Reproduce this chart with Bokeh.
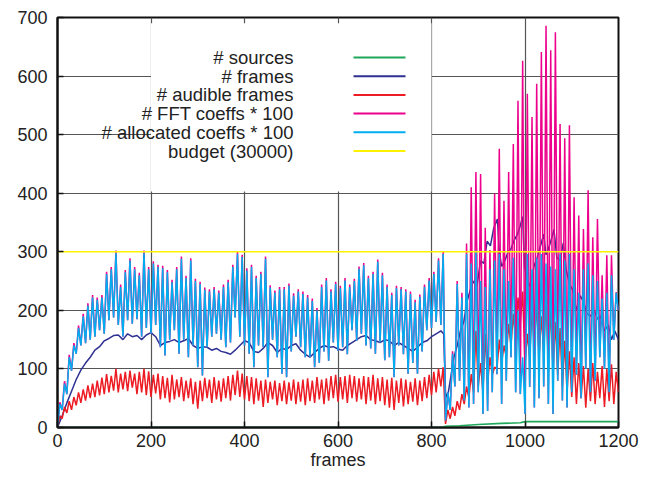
from bokeh.plotting import figure
from bokeh.models import Range1d, FixedTicker, Label, BoxAnnotation
from bokeh.embed import file_html
from bokeh.resources import INLINE

# ---------------- data ----------------
x_ticks = [0, 200, 400, 600, 800, 1000, 1200]
y_ticks = [0, 100, 200, 300, 400, 500, 600, 700]

step_frames = list(range(0, 1201, 5))

sources_frames = [0, 820, 830, 860, 900, 950, 990, 1000, 1200]
sources = [0, 0, 2, 3, 5, 7, 8, 10, 10]

frames_x = [0, 10, 20, 30, 40, 50, 60, 70, 80, 90,
            100, 110, 120, 130, 140, 150, 160, 170, 180, 190,
            200, 210, 220, 230, 240, 250, 260, 270, 280, 290,
            300, 310, 320, 330, 340, 350, 360, 370, 380, 390,
            400, 410, 420, 430, 440, 450, 460, 470, 480, 490,
            500, 510, 520, 530, 540, 550, 560, 570, 580, 590,
            600, 610, 620, 630, 640, 650, 660, 670, 680, 690,
            700, 710, 720, 730, 740, 750, 760, 770, 780, 790,
            800, 810, 820, 826, 830, 834, 840, 848, 855, 862,
            869, 876, 883, 890, 897, 905, 912, 919, 926, 933,
            941, 945, 950, 957, 964, 970, 977, 984, 990, 995,
            999, 1005, 1012, 1019, 1026, 1033, 1040, 1045, 1050, 1056,
            1062, 1068, 1075, 1082, 1088, 1095, 1102, 1110, 1118, 1125,
            1132, 1140, 1148, 1155, 1162, 1170, 1178, 1185, 1192, 1200]
frames_count = [0, 20, 42, 62, 82, 98, 110, 120, 132, 138,
                148, 152, 157, 158, 150, 160, 155, 157, 150, 158,
                162, 155, 140, 145, 147, 150, 145, 148, 152, 140,
                135, 138, 137, 132, 135, 130, 128, 125, 132, 140,
                148, 145, 130, 128, 135, 145, 140, 128, 135, 133,
                140, 143, 132, 125, 120, 128, 135, 140, 137, 138,
                134, 132, 140, 145, 150, 155, 157, 150, 148, 145,
                150, 148, 140, 145, 140, 135, 130, 137, 145, 148,
                155, 160, 165, 160, 60, 50, 80, 120, 140, 165,
                180, 215, 235, 250, 240, 285, 280, 318, 310, 340,
                356, 300, 275, 285, 300, 305, 320, 330, 345, 360,
                275, 250, 240, 275, 290, 310, 330, 295, 305, 320,
                338, 290, 285, 315, 270, 245, 235, 200, 225, 215,
                195, 190, 200, 185, 190, 165, 175, 150, 165, 150]

audible = [0, 20, 15, 35, 25, 45, 30, 52, 38, 60,
           42, 65, 46, 72, 50, 75, 52, 80, 55, 85,
           57, 91, 60, 88, 63, 100, 60, 92, 65, 95,
           62, 97, 68, 92, 57, 95, 60, 100, 55, 96,
           52, 90, 58, 92, 48, 88, 50, 85, 43, 90,
           48, 82, 52, 86, 45, 80, 50, 84, 40, 78,
           32, 80, 45, 85, 50, 82, 42, 86, 48, 80,
           44, 84, 50, 88, 46, 90, 55, 97, 52, 92,
           48, 88, 45, 86, 40, 84, 46, 80, 35, 82,
           42, 78, 48, 80, 38, 76, 45, 80, 40, 77,
           46, 82, 40, 78, 44, 82, 38, 84, 45, 80,
           42, 86, 48, 82, 40, 84, 46, 88, 50, 90,
           44, 86, 48, 88, 42, 90, 50, 88, 44, 84,
           48, 88, 40, 86, 46, 90, 40, 84, 45, 86,
           38, 82, 34, 85, 30, 80, 42, 84, 36, 82,
           40, 78, 44, 84, 38, 80, 45, 86, 50, 90,
           55, 95, 60, 100, 70, 103, 6, 30, 15, 35,
           20, 45, 30, 57, 40, 70, 50, 91, 60, 165,
           70, 110, 60, 160, 75, 120, 90, 103, 100, 150,
           110, 140, 120, 177, 140, 194, 150, 222, 180, 232,
           108, 160, 120, 200, 140, 211, 120, 190, 130, 217,
           110, 205, 100, 180, 90, 170, 70, 148, 60, 130,
           52, 120, 40, 110, 50, 105, 34, 100, 45, 110,
           40, 95, 50, 105, 35, 100, 45, 108, 40, 95,
           60]

fft_coeffs = [0, 43, 30, 79, 57, 124, 97, 144, 126, 174,
              140, 194, 144, 212, 150, 226, 155, 222, 166, 226,
              160, 266, 183, 274, 188, 302, 175, 244, 155, 269,
              183, 289, 177, 274, 185, 264, 155, 302, 170, 274,
              160, 284, 175, 278, 137, 276, 123, 269, 150, 252,
              166, 274, 126, 292, 150, 259, 120, 289, 140, 254,
              103, 249, 89, 239, 137, 236, 155, 240, 160, 234,
              150, 244, 137, 252, 145, 278, 188, 300, 155, 295,
              140, 272, 126, 278, 103, 259, 140, 266, 137, 292,
              86, 243, 150, 234, 120, 240, 92, 240, 86, 246,
              130, 229, 155, 236, 137, 232, 120, 226, 120, 220,
              103, 204, 110, 244, 130, 255, 114, 236, 145, 249,
              131, 242, 137, 255, 125, 244, 166, 254, 148, 275,
              160, 281, 140, 259, 135, 266, 126, 287, 145, 264,
              115, 244, 120, 230, 86, 242, 140, 240, 125, 236,
              92, 232, 110, 218, 92, 227, 130, 244, 166, 255,
              170, 266, 180, 289, 175, 300, 12, 60, 30, 130,
              70, 250, 80, 230, 46, 314, 34, 410, 40, 436,
              60, 433, 23, 341, 28, 303, 60, 400, 91, 476,
              40, 387, 80, 436, 120, 484, 60, 558, 57, 626,
              23, 570, 69, 530, 34, 587, 50, 641, 70, 686,
              40, 644, 23, 675, 80, 518, 46, 494, 34, 516,
              60, 393, 90, 362, 50, 339, 100, 405, 60, 325,
              80, 356, 120, 260, 100, 294, 60, 294, 150, 231,
              200]

alloc_coeffs = [0, 40, 30, 75, 57, 120, 97, 140, 126, 170,
                140, 190, 144, 208, 150, 222, 155, 218, 166, 222,
                160, 262, 183, 270, 188, 298, 175, 240, 155, 265,
                183, 285, 177, 270, 185, 260, 155, 298, 170, 270,
                160, 280, 175, 274, 137, 272, 123, 265, 150, 248,
                166, 270, 126, 288, 150, 255, 120, 285, 140, 250,
                103, 245, 89, 235, 137, 232, 155, 236, 160, 230,
                150, 240, 137, 248, 145, 274, 188, 296, 155, 291,
                140, 268, 126, 274, 103, 255, 140, 262, 137, 288,
                86, 239, 150, 230, 120, 236, 92, 236, 86, 242,
                130, 225, 155, 232, 137, 228, 120, 222, 120, 216,
                103, 200, 110, 240, 130, 251, 114, 232, 145, 245,
                131, 238, 137, 251, 125, 240, 166, 250, 148, 271,
                160, 277, 140, 255, 135, 262, 126, 283, 145, 260,
                115, 240, 120, 226, 86, 238, 140, 236, 125, 232,
                92, 228, 110, 214, 92, 223, 130, 240, 166, 251,
                170, 262, 180, 285, 175, 296, 12, 60, 30, 126,
                70, 245, 80, 222, 46, 296, 34, 280, 40, 302,
                60, 250, 23, 240, 28, 270, 60, 285, 91, 296,
                40, 270, 80, 250, 120, 290, 60, 200, 57, 120,
                23, 296, 69, 270, 34, 290, 50, 296, 70, 280,
                40, 275, 23, 270, 80, 296, 46, 285, 34, 296,
                60, 270, 90, 230, 50, 270, 100, 280, 60, 260,
                80, 250, 120, 220, 100, 230, 60, 260, 150, 230,
                200]

budget_frames = [0, 1200]
budget = [300, 300]

series_labels = ["# sources", "# frames", "# audible frames",
                 "# FFT coeffs * 100", "# allocated coeffs * 100", "budget (30000)"]
series_colors = ["#1fa85a", "#2e3192", "#ed1c24", "#ec008c", "#00aeef", "#fff200"]

FONT = "Liberation Sans"

# ---------------- figure ----------------
p = figure(width=655, height=476, output_backend="svg", toolbar_location=None,
           x_range=Range1d(0, 1200), y_range=Range1d(0, 700),
           min_border_left=57, min_border_right=37, min_border_top=17, min_border_bottom=49)
p.background_fill_color = "white"
p.border_fill_color = "white"
p.outline_line_color = "#111111"
p.outline_line_width = 2

for ax in (p.xaxis[0], p.yaxis[0]):
    ax.major_label_text_font = FONT
    ax.major_label_text_font_size = "18px"
    ax.major_label_text_color = "#222222"
    ax.major_tick_in = 6
    ax.major_tick_out = 0
    ax.major_tick_line_color = "#111111"
    ax.major_tick_line_width = 1.5
    ax.minor_tick_line_color = None
    ax.axis_line_color = "#111111"
    ax.axis_line_width = 2
p.xaxis[0].ticker = FixedTicker(ticks=x_ticks)
p.yaxis[0].ticker = FixedTicker(ticks=y_ticks)
p.xaxis[0].major_label_standoff = 6
p.yaxis[0].major_label_standoff = 10
p.xaxis[0].axis_label = "frames"
p.xaxis[0].axis_label_text_font = FONT
p.xaxis[0].axis_label_text_font_size = "18px"
p.xaxis[0].axis_label_text_font_style = "normal"
p.xaxis[0].axis_label_text_color = "#222222"
p.xaxis[0].axis_label_standoff = 0

p.xgrid.ticker = FixedTicker(ticks=x_ticks)
p.ygrid.ticker = FixedTicker(ticks=y_ticks)
p.grid.grid_line_color = "#555555"
p.grid.grid_line_width = 1.2

# white key area hiding the grid behind the legend (grid stubs at the top stay as ticks)
key_bg = BoxAnnotation(left=200, right=800, bottom=403, top=690,
                       fill_color="white", fill_alpha=1.0, line_alpha=0, level="underlay")
p.add_layout(key_bg)

# ---------------- lines ----------------
p.line(sources_frames, sources, line_color=series_colors[0], line_width=1.6)
p.line(frames_x, frames_count, line_color=series_colors[1], line_width=1.5)
p.line(step_frames, audible, line_color=series_colors[2], line_width=1.5)
p.line(step_frames, fft_coeffs, line_color=series_colors[3], line_width=1.5)
p.line(step_frames, alloc_coeffs, line_color=series_colors[4], line_width=1.5)
p.line(budget_frames, budget, line_color=series_colors[5], line_width=1.6)

# ---------------- key (gnuplot style: right aligned text, sample on the right) ----------------
row_y = 370
for i, (lab, col) in enumerate(zip(series_labels, series_colors)):
    y = row_y - i * 18.7
    p.add_layout(Label(x=236, y=y, x_units="screen", y_units="screen", text=lab,
                       text_align="right", text_baseline="middle",
                       text_font=FONT, text_font_size="18.5px", text_color="#222222"))
    p.add_layout(BoxAnnotation(left=296, right=348, bottom=y - 1, top=y + 1,
                               left_units="screen", right_units="screen",
                               bottom_units="screen", top_units="screen",
                               fill_color=col, fill_alpha=1.0, line_alpha=0))

open("out.html", "w").write(file_html(p, INLINE))
